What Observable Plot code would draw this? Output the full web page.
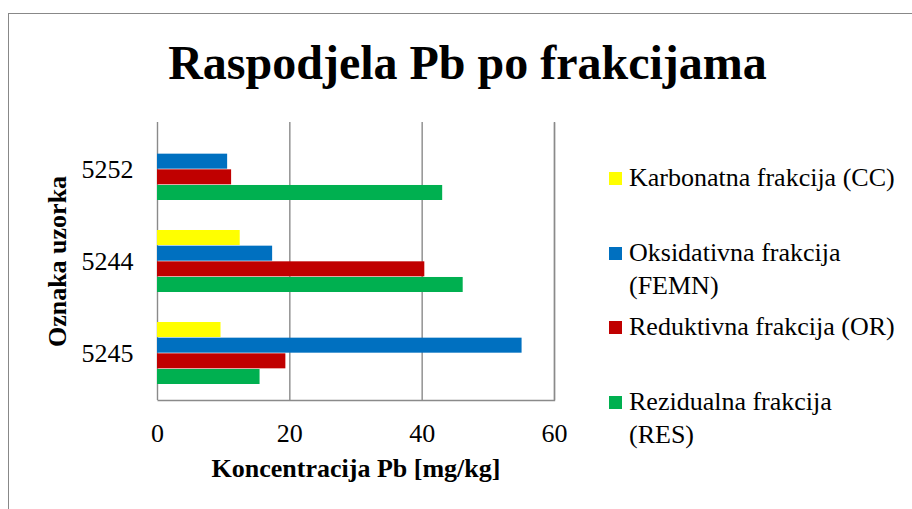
<!DOCTYPE html>
<html>
<head>
<meta charset="utf-8">
<script src="https://cdn.jsdelivr.net/npm/d3@7"></script>
<script src="https://cdn.jsdelivr.net/npm/@observablehq/plot@0.6"></script>
<style>
  html, body { margin: 0; padding: 0; background: #fff; }
  #page { position: relative; width: 912px; height: 509px; overflow: hidden; background: #fff;
    font-family: "Liberation Serif", "Times New Roman", serif; color: #000; }
  #border { position: absolute; left: 8px; top: 13px; right: -10px; bottom: -10px;
    border-top: 1.5px solid #888; border-left: 1.5px solid #888; }
  #title { position: absolute; left: 0; top: 39px; width: 935px; text-align: center;
    font-size: 48px; line-height: 47px; font-weight: bold; white-space: nowrap; }
  #chart { position: absolute; left: 0; top: 100px; }
  #chart [aria-label="x-axis label"], #chart [aria-label="y-axis label"] { font-weight: bold; }
  #legend { position: absolute; left: 609px; top: 161px; width: 300px; }
  .item { display: flex; align-items: flex-start; height: 66.7px; margin-bottom: 8px; }
  .sw { width: 13px; height: 13px; margin-top: 11px; margin-right: 7px; flex: none; }
  .lab { font-size: 26px; line-height: 33.3px; width: 272px; }
</style>
</head>
<body>
<div id="page">
  <div id="border"></div>
  <div id="title"></div>
  <div id="chart"></div>
  <div id="legend"></div>
</div>
<script>
const title = "Raspodjela Pb po frakcijama";
const xLabel = "Koncentracija Pb [mg/kg]";
const yLabel = "Oznaka uzorka";
const samples = ["5252", "5244", "5245"];
const series = ["Karbonatna frakcija (CC)", "Oksidativna frakcija (FEMN)", "Reduktivna frakcija (OR)", "Rezidualna frakcija (RES)"];
const cc   = [0, 12.5, 9.6];
const femn = [10.6, 17.4, 55.1];
const or   = [11.2, 40.4, 19.4];
const res  = [43.1, 46.2, 15.5];
const xTicks = [0, 20, 40, 60];
const colors = ["#FFFF00", "#0070C0", "#C00000", "#00B050"];

const valuesBySeries = [cc, femn, or, res];
const rows = [];
samples.forEach((s, i) => {
  series.forEach((k, j) => rows.push({sample: s, series: k, value: valuesBySeries[j][i]}));
});

document.getElementById("title").textContent = title;

const W = 590, H = 400, mL = 157, mR = 36, mT = 22, mB = 100;
const fw = W - mL - mR, fh = H - mT - mB;
const padIn = 0.324, padOut = 0.162;
const step = fh / (samples.length - padIn + 2 * padOut);
const bandw = step * (1 - padIn);
const sub = bandw / series.length;

const plot = Plot.plot({
  width: W, height: H,
  marginLeft: mL, marginRight: mR, marginTop: mT, marginBottom: mB,
  style: {fontFamily: "'Liberation Serif', 'Times New Roman', serif", fontSize: "26px", color: "#000", background: "transparent", overflow: "visible"},
  x: {domain: [0, 60]},
  y: {domain: samples, paddingInner: padIn, paddingOuter: padOut},
  color: {domain: series, range: colors},
  marks: [
    Plot.ruleX(xTicks, {stroke: "#8a8a8a", strokeWidth: 1.4}),
    Plot.frame({stroke: "#8a8a8a", strokeWidth: 1.4, strokeDasharray: `0 ${fw} ${fw + fh} ${fh + 10}`}),
    ...series.map((k, j) => Plot.barX(rows.filter(d => d.series === k), {
      x: "value", y: "sample", fill: "series",
      insetTop: j * sub, insetBottom: (series.length - 1 - j) * sub
    })),
    Plot.axisX({ticks: xTicks, tickSize: 0, tickPadding: 23, tickFormat: d => String(d), label: xLabel, labelAnchor: "center", labelArrow: "none", labelOffset: 76}),
    Plot.axisY({tickSize: 0, tickPadding: 24, label: yLabel, labelAnchor: "center", labelOffset: 110})
  ]
});
document.getElementById("chart").appendChild(plot);

const color = plot.scale("color");
const legend = document.getElementById("legend");
series.forEach((k, j) => {
  const item = document.createElement("div");
  item.className = "item";
  const sw = document.createElement("div");
  sw.className = "sw";
  sw.style.background = color.apply(k);
  const lab = document.createElement("div");
  lab.className = "lab";
  lab.textContent = k;
  item.appendChild(sw);
  item.appendChild(lab);
  legend.appendChild(item);
});
</script>
</body>
</html>
